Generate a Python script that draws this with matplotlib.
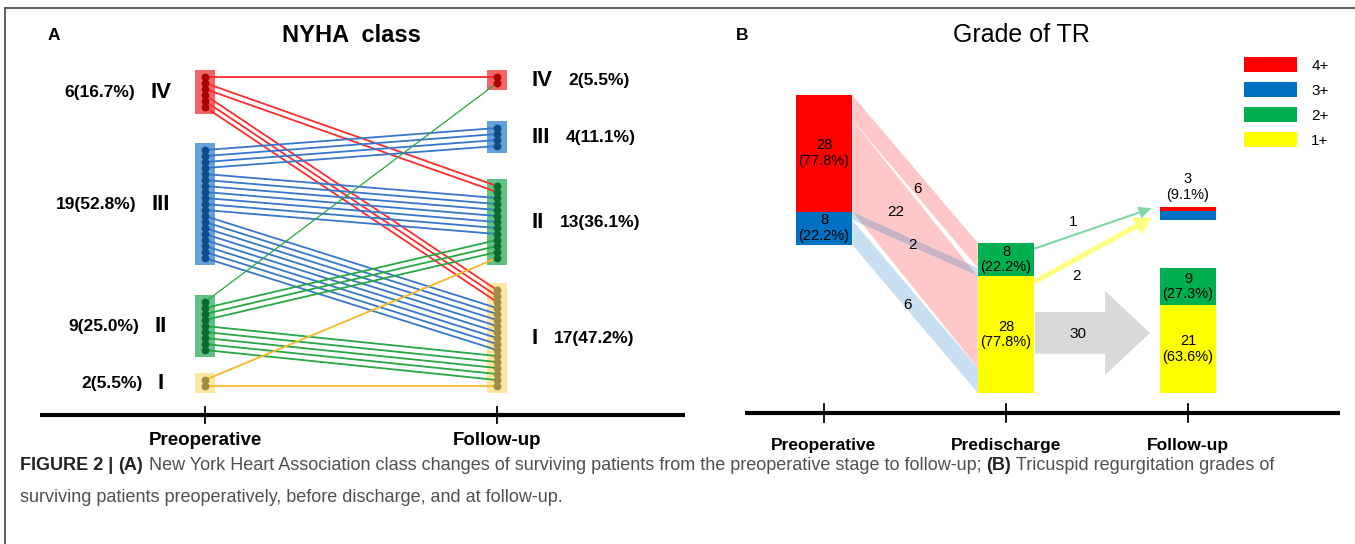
import numpy as np
import matplotlib
matplotlib.use('Agg')
import matplotlib.pyplot as plt
from matplotlib.patches import Rectangle, Patch, Polygon
from matplotlib.lines import Line2D

# ---------------- data: panel A (NYHA class) ----------------
nyha = ['IV', 'III', 'II', 'I']
pre_counts = [6, 19, 9, 2]
post_counts = [2, 4, 13, 17]
pre_labels = ['6(16.7%)', '19(52.8%)', '9(25.0%)', '2(5.5%)']
post_labels = ['2(5.5%)', '4(11.1%)', '13(36.1%)', '17(47.2%)']
# rows = preoperative class, cols = follow-up class (IV, III, II, I)
moves = [[1, 0, 2, 3],
         [0, 4, 7, 8],
         [1, 0, 3, 5],
         [0, 0, 1, 1]]
stages_a = ['Preoperative', 'Follow-up']

# ---------------- data: panel B (grade of TR) ----------------
grades = ['4+', '3+', '2+', '1+']
pre_tr = [28, 8, 0, 0]
disch_tr = [0, 0, 8, 28]
fu_tr = [0, 0, 9, 21]
fu_up = [1, 2, 0, 0]
pre_tr_txt = ['28\n(77.8%)', '8\n(22.2%)', '', '']
disch_tr_txt = ['', '', '8\n(22.2%)', '28\n(77.8%)']
fu_tr_txt = ['', '', '9\n(27.3%)', '21\n(63.6%)']
fu_up_txt = '3\n(9.1%)'
tr_flows = [('4+', '2+', 6), ('4+', '1+', 22), ('3+', '2+', 2), ('3+', '1+', 6)]
fu_arrows = [('2+', 1), ('1+', 2)]
fu_stay = 30
stages_b = ['Preoperative', 'Predischarge', 'Follow-up']

caption1 = [('FIGURE 2 |', 'bold'), ('(A)', 'bold'),
            ('New York Heart Association class changes of surviving patients from the preoperative stage to follow-up;', 'normal'),
            ('(B)', 'bold'), ('Tricuspid regurgitation grades of', 'normal')]
caption2 = 'surviving patients preoperatively, before discharge, and at follow-up.'

# ---------------- styling ----------------
SANS = ['Liberation Sans', 'DejaVu Sans']
plt.rcParams['font.family'] = SANS

box_c = ['#f24a4a', '#4891d2', '#44b86c', '#fde290']
dot_c = ['#a80000', '#0c4d86', '#0b6a30', '#a08c45']
line_c = ['#ff2b2b', '#3677cc', '#27a843', '#f6b923']
tr_c = {'4+': '#ff0000', '3+': '#0070c0', '2+': '#00b050', '1+': '#ffff00'}

W, H = 1355, 544
fig = plt.figure(figsize=(W / 100, H / 100), dpi=100)

def px_axes(x0, y0, x1, y1):
    return fig.add_axes([x0 / W, 1 - y1 / H, (x1 - x0) / W, (y1 - y0) / H])

# ================= Panel A =================
axa = px_axes(40, 20, 685, 460)
axa.set_xlim(-0.565, 1.644)
axa.set_ylim(63.83, -9.5)
axa.axis('off')

pre_start = [0, 12.17, 37.5, 50.5]
post_start = [0, 8.5, 18.17, 35.5]
bw = 0.034

for g in range(4):
    for x, start, n in [(0, pre_start[g], pre_counts[g]), (1, post_start[g], post_counts[g])]:
        axa.add_patch(Rectangle((x - bw, start - 1.2), 2 * bw, n - 1 + 2.4,
                                facecolor=box_c[g], edgecolor='none', alpha=0.85, zorder=1))
        ys = start + np.arange(n)
        axa.plot(np.full(n, x), ys, 'o', color=dot_c[g], ms=4.6, zorder=4)

for i in range(4):
    for j in range(4):
        src_off = sum(moves[i][:j])
        dst_off = sum(moves[k][j] for k in range(i))
        for k in range(moves[i][j]):
            y0 = pre_start[i] + src_off + k
            y1 = post_start[j] + dst_off + k
            lw = 0.9 if (i == 2 and j == 0) else 1.3
            axa.plot([0, 1], [y0, y1], color=line_c[i], lw=lw, zorder=3,
                     solid_capstyle='butt')

for g in range(4):
    yc = pre_start[g] + (pre_counts[g] - 1) / 2
    t = axa.text(-0.151, yc, nyha[g], ha='center', va='center', fontsize=16,
                 fontweight='bold')
    axa.annotate(pre_labels[g], xy=(0, 0.5), xycoords=t, xytext=(-11, 0),
                 textcoords='offset points', ha='right', va='center',
                 fontsize=12.5, fontweight='bold')
    yc = post_start[g] + (post_counts[g] - 1) / 2
    t = axa.text(1.12, yc, nyha[g], ha='left', va='center', fontsize=16,
                 fontweight='bold')
    axa.annotate(post_labels[g], xy=(1, 0.5), xycoords=t, xytext=(11, 0),
                 textcoords='offset points', ha='left', va='center',
                 fontsize=12.5, fontweight='bold')

ya = 56.33
axa.plot(axa.get_xlim(), [ya, ya], color='black', lw=3, solid_capstyle='butt')
for x, s in enumerate(stages_a):
    axa.plot([x, x], [ya - 1.4, ya + 1.4], color='black', lw=1.3)
    axa.text(x, 60.6, s, ha='center', va='center', fontsize=13.5, fontweight='bold')

# ================= Panel B =================
axb = px_axes(745, 20, 1340, 460)
axb.set_xlim(-0.434, 2.835)
axb.set_ylim(-16.07, 89.45)
axb.axis('off')

bwb = 0.31
pre_top, disch_top, fu_top, up_top = 71.5, 36, 30, 44.6

def stack(x, top, counts, texts):
    edges = {}
    for g, n, s in zip(grades, counts, texts):
        if n == 0:
            continue
        axb.bar(x, n, bwb, bottom=top - n, color=tr_c[g], edgecolor='none', zorder=3)
        if s:
            axb.text(x, top - n / 2, s, ha='center', va='center', fontsize=10.5,
                     linespacing=1.15, zorder=5)
        edges[g] = top
        top -= n
    return edges

pre_e = stack(0, pre_top, pre_tr, pre_tr_txt)
dis_e = stack(1, disch_top, disch_tr, disch_tr_txt)
fu_e = stack(2, fu_top, fu_tr, fu_tr_txt)
stack(2, up_top, fu_up, ['', '', '', ''])
axb.text(2, up_top + 1.2, fu_up_txt, ha='center', va='bottom', fontsize=10.5,
         linespacing=1.15)

# ribbons between preoperative and predischarge
src_ptr = dict(pre_e)
dst_ptr = dict(dis_e)
xl, xr = bwb / 2, 1 - bwb / 2
label_t = [0.52, 0.35, 0.48, 0.44]
label_dy = [-1.0, 2.0, -0.6, -1.8]
for (s, d, n), t, dy in zip(tr_flows, label_t, label_dy):
    a0, b0 = src_ptr[s], dst_ptr[d]
    src_ptr[s] -= n
    dst_ptr[d] -= n
    poly = Polygon([(xl, a0), (xr, b0), (xr, b0 - n), (xl, a0 - n)], closed=True,
                   facecolor=tr_c[s], alpha=0.22, edgecolor='white', lw=0.8, zorder=1)
    axb.add_patch(poly)
    xm = xl + t * (xr - xl)
    ym = (a0 - n / 2) + t * ((b0 - n / 2) - (a0 - n / 2)) + dy
    axb.text(xm, ym, str(n), ha='center', va='center', fontsize=11, zorder=6)

# arrows predischarge -> follow-up worse
arrow_geo = {'2+': (34.6, 44.3, 1.1, 12, 13, 1.37, 41.0),
             '1+': (26.6, 42.0, 2.6, 20, 17, 1.39, 28.0)}
for g, n in fu_arrows:
    y0, y1, tw, hw, hl, lx, ly = arrow_geo[g]
    axb.annotate('', xy=(1.80, y1), xytext=(1 + bwb / 2, y0),
                 arrowprops=dict(arrowstyle='simple,head_length=%g,head_width=%g,tail_width=%g' % (hl * 0.72, hw * 0.72, tw * 1.4),
                                 color=tr_c[g], alpha=0.5, lw=0, shrinkA=0, shrinkB=0,
                                 mutation_scale=1), zorder=4)
    axb.text(lx, ly, str(n), ha='center', va='center', fontsize=11)

# big gray arrow for stable patients
axb.arrow(1.159, 14.4, 0.632, 0, width=10, head_width=20.2, head_length=0.247,
          length_includes_head=True, color='#d9d9d9', lw=0, zorder=2)
axb.text(1.396, 14.1, str(fu_stay), ha='center', va='center', fontsize=11, zorder=5)

yb = -4.8
axb.plot(axb.get_xlim(), [yb, yb], color='black', lw=3, solid_capstyle='butt')
for x, s in enumerate(stages_b):
    axb.plot([x, x], [yb - 2.2, yb + 2.2], color='black', lw=1.3)
    axb.text(x, -12.5, s, ha='center', va='center', fontsize=12.5, fontweight='bold')

handles = [Patch(facecolor=tr_c[g], edgecolor='none') for g in grades]
fig.legend(handles, grades, loc='upper left', bbox_to_anchor=(1244 / W, 1 - 57 / H),
           frameon=False, fontsize=11, handlelength=3.5, handleheight=1.1,
           labelspacing=0.62, handletextpad=0.9, borderpad=0, borderaxespad=0)

# titles
fig.text(48 / W, 1 - 35 / H, 'A', fontsize=12.5, fontweight='bold', va='center')
fig.text(351 / W, 1 - 35 / H, 'NYHA  class', fontsize=17, fontweight='bold',
         ha='center', va='center')
fig.text(736 / W, 1 - 35 / H, 'B', fontsize=12.5, fontweight='bold', va='center')
fig.text(1021 / W, 1 - 35 / H, 'Grade of TR', fontsize=18, ha='center', va='center')

# frame lines (top and left)
fig.add_artist(Line2D([5 / W, 1], [1 - 8 / H, 1 - 8 / H], color='#555555', lw=1.3))
fig.add_artist(Line2D([5 / W, 5 / W], [0, 1 - 8 / H], color='#555555', lw=1.3))

# caption
cap = fig.add_axes([0, 0, 1, 1])
cap.axis('off')
cap.set_xlim(0, 1)
cap.set_ylim(0, 1)
y1 = 1 - 470 / H
prev = cap.text(20 / W, y1, caption1[0][0], fontsize=13, fontweight='bold',
                color='#222222', va='baseline')
for s, w in caption1[1:]:
    prev = cap.annotate(s, xy=(1, y1), xycoords=(prev, 'axes fraction'),
                        xytext=(3.8, 0), textcoords='offset points', va='baseline',
                        fontsize=13, fontweight=w,
                        color='#222222' if w == 'bold' else '#505050')
cap.text(20 / W, 1 - 502 / H, caption2, fontsize=13, color='#505050', va='baseline')

fig.savefig('out.png', dpi=100)
